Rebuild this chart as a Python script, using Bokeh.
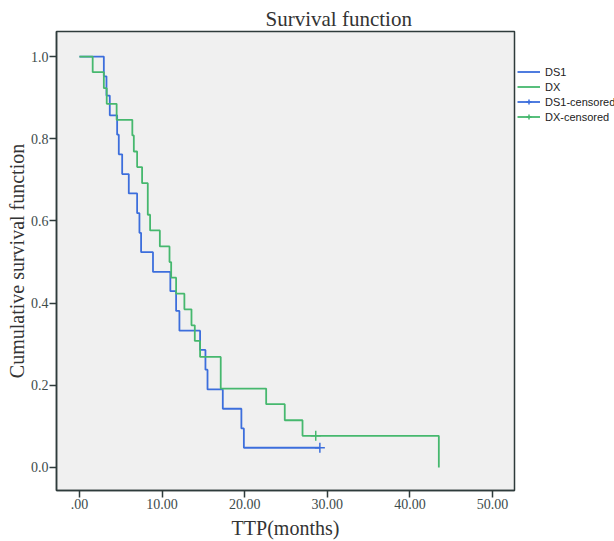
from bokeh.plotting import figure
from bokeh.models import Range1d, FixedTicker, Legend, LegendItem
from bokeh.embed import file_html
from bokeh.resources import INLINE

# ---- data ----
ds1_time = [0.0, 2.95, 3.27, 3.67, 4.56, 4.76, 5.17, 5.97, 6.98, 7.26, 7.46, 8.9,
            11.0, 11.7, 12.1, 14.6, 15.25, 15.5, 17.35, 19.6, 19.9, 29.1]
ds1_surv = [1.0, 0.952, 0.905, 0.857, 0.810, 0.762, 0.714, 0.667, 0.619, 0.571, 0.524, 0.476,
            0.429, 0.381, 0.333, 0.286, 0.238, 0.190, 0.143, 0.095, 0.048, 0.048]

dx_time = [0.0, 1.6, 2.95, 3.3, 4.5, 6.4, 6.58, 6.98, 7.58, 8.27, 8.55, 9.73,
           10.9, 11.1, 11.7, 12.7, 13.56, 13.96, 14.6, 17.1, 22.6, 24.85, 27.0, 43.5]
dx_surv = [1.0, 0.962, 0.923, 0.885, 0.846, 0.808, 0.769, 0.731, 0.692, 0.615, 0.577, 0.538,
           0.500, 0.462, 0.423, 0.385, 0.346, 0.308, 0.269, 0.192, 0.154, 0.115, 0.077, 0.0]

ds1_cens_time = [29.1]
ds1_cens_surv = [0.048]
dx_cens_time = [28.6]
dx_cens_surv = [0.077]

x_ticks = [0, 10, 20, 30, 40, 50]
x_tick_labels = [".00", "10.00", "20.00", "30.00", "40.00", "50.00"]
y_ticks = [0.0, 0.2, 0.4, 0.6, 0.8, 1.0]
y_tick_labels = ["0.0", "0.2", "0.4", "0.6", "0.8", "1.0"]

series_names = ["DS1", "DX", "DS1-censored", "DX-censored"]

BLUE = "#3c6edc"
GREEN = "#46b86e"
FRAME = "#2e3b3b"
SERIF = "Liberation Serif"

p = figure(frame_width=458, frame_height=459,
           x_range=Range1d(-2.78, 52.66), y_range=Range1d(-0.056, 1.061),
           output_backend="svg", toolbar_location=None,
           min_border_left=56, min_border_right=100, min_border_top=31, min_border_bottom=51)

p.title.text = "Survival function"
p.title.align = "left"
p.title.offset = 209
p.title.standoff = 1
p.title.text_font = SERIF
p.title.text_font_size = "21px"
p.title.text_font_style = "normal"
p.title.text_color = "#333333"

p.background_fill_color = "#f0f0f0"
p.border_fill_color = "white"
p.outline_line_color = FRAME
p.outline_line_width = 1.5
p.xgrid.grid_line_color = None
p.ygrid.grid_line_color = None

for ax in (p.xaxis[0], p.yaxis[0]):
    ax.axis_line_color = FRAME
    ax.axis_line_width = 1.5
    ax.major_tick_line_color = FRAME
    ax.major_tick_line_width = 1.5
    ax.major_tick_out = 7
    ax.major_tick_in = 0
    ax.minor_tick_line_color = None
    ax.major_label_text_font = SERIF
    ax.major_label_text_font_size = "14px"
    ax.major_label_text_color = "#3d4b4b"
    ax.major_label_standoff = 1
    ax.axis_label_text_font = SERIF
    ax.axis_label_text_font_style = "normal"
    ax.axis_label_text_color = "#333333"

p.xaxis.axis_label_text_font_size = "20px"
p.xaxis.axis_label_standoff = 5
p.yaxis.axis_label_text_font_size = "20px"
p.yaxis.axis_label_standoff = 0

p.xaxis.ticker = FixedTicker(ticks=x_ticks)
p.xaxis.major_label_overrides = {t: l for t, l in zip(x_ticks, x_tick_labels)}
p.yaxis.ticker = FixedTicker(ticks=y_ticks)
p.yaxis.major_label_overrides = {t: l for t, l in zip(y_ticks, y_tick_labels)}
p.xaxis.axis_label = "TTP(months)"
p.yaxis.axis_label = "Cumulative survival function"

r1 = p.step(ds1_time, ds1_surv, mode="after", line_color=BLUE, line_width=1.8)
r2 = p.step(dx_time, dx_surv, mode="after", line_color=GREEN, line_width=1.8)
c1 = p.scatter(ds1_cens_time, ds1_cens_surv, marker="cross", size=10,
               line_color=BLUE, line_width=1.5)
c2 = p.scatter(dx_cens_time, dx_cens_surv, marker="cross", size=10,
               line_color=GREEN, line_width=1.5)

legend = Legend(items=[
    LegendItem(label=series_names[0], renderers=[r1]),
    LegendItem(label=series_names[1], renderers=[r2]),
    LegendItem(label=series_names[2], renderers=[r1, c1]),
    LegendItem(label=series_names[3], renderers=[r2, c2]),
], location=(3, 367), padding=0, margin=0, spacing=2,
    glyph_width=23, glyph_height=13, label_height=13, label_standoff=5,
    label_text_font="Liberation Sans", label_text_font_size="11px",
    label_text_color="#222222",
    border_line_color=None, background_fill_alpha=0)
p.add_layout(legend, "right")

open("out.html", "w").write(file_html(p, INLINE))
